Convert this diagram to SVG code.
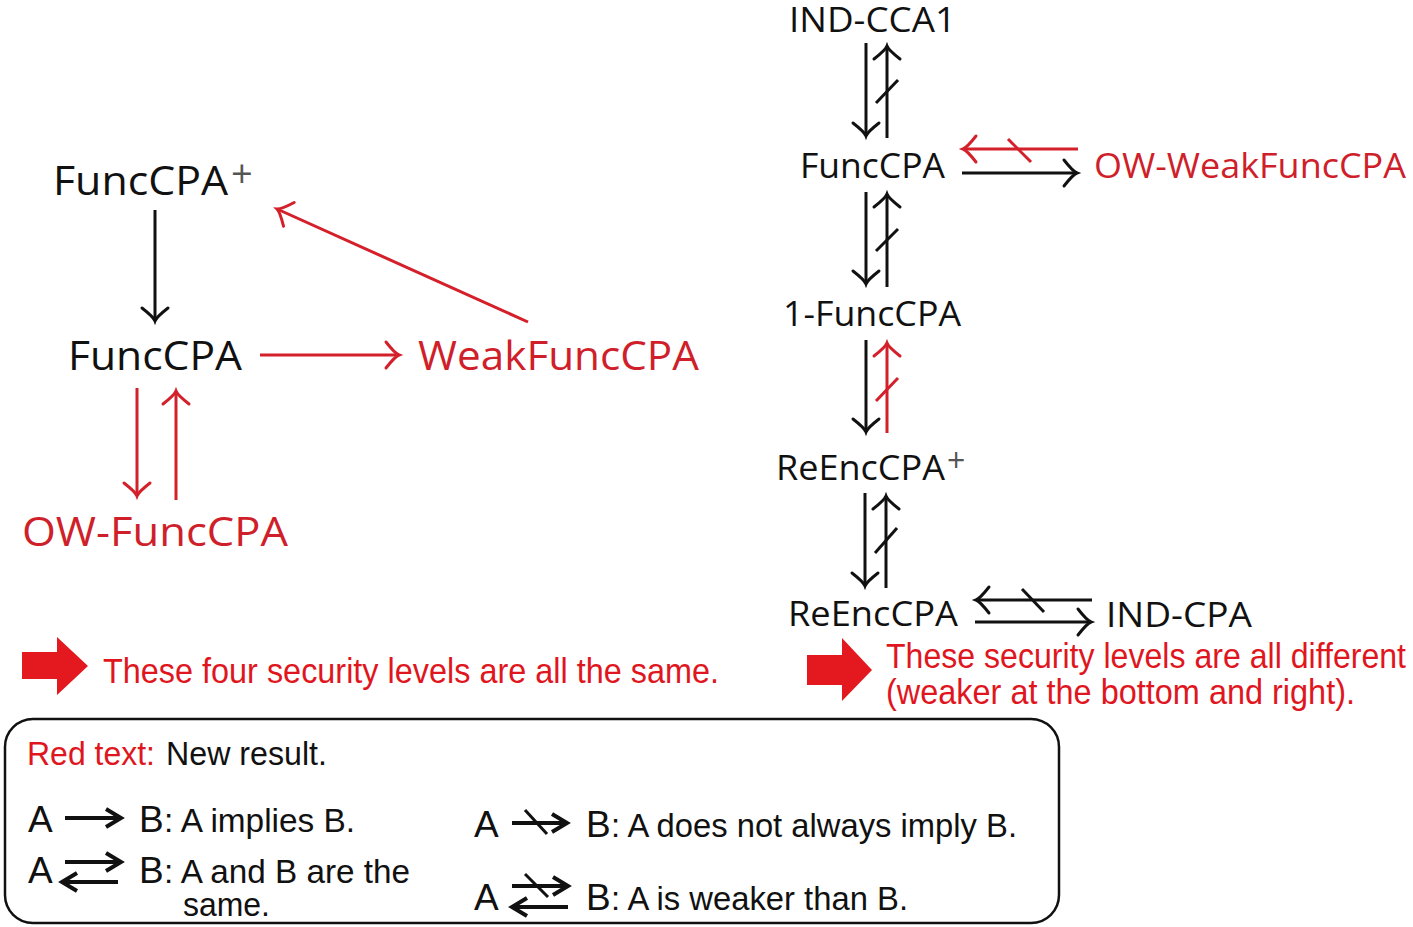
<svg xmlns="http://www.w3.org/2000/svg" width="1413" height="927" viewBox="0 0 1413 927">
<style>
.lbl{font-family:"Open Sans","DejaVu Sans",sans-serif;font-size:40px;fill:#111}
.lbs{font-family:"Open Sans","DejaVu Sans",sans-serif;font-size:35px;fill:#111}
.red{fill:#cf1f2b}
.sup{font-family:"Open Sans","DejaVu Sans",sans-serif;fill:#555}
.note{font-family:"Liberation Sans",Arial,sans-serif;font-size:35px;fill:#e0161e}
.leg{font-family:"Liberation Sans",Arial,sans-serif;font-size:34px;fill:#111}
.sym{font-family:"Liberation Sans",Arial,sans-serif;font-size:37px;fill:#111}
.ak{stroke:#111;stroke-width:3;fill:none}
.ar{stroke:#d3202a;stroke-width:3;fill:none}
.lg{stroke:#111;stroke-width:4;fill:none}
</style>
<defs>
<marker id="hk" markerUnits="userSpaceOnUse" orient="auto" overflow="visible" refX="0" refY="0" markerWidth="1" markerHeight="1">
<path d="M-13,-13 Q-4,-1.5 0,0 Q-4,1.5 -13,13" stroke="#111" stroke-width="3" fill="none" stroke-linecap="round"/>
</marker>
<marker id="hr" markerUnits="userSpaceOnUse" orient="auto" overflow="visible" refX="0" refY="0" markerWidth="1" markerHeight="1">
<path d="M-13,-13 Q-4,-1.5 0,0 Q-4,1.5 -13,13" stroke="#d3202a" stroke-width="3" fill="none" stroke-linecap="round"/>
</marker>
<marker id="hl" markerUnits="userSpaceOnUse" orient="auto" overflow="visible" refX="0" refY="0" markerWidth="1" markerHeight="1">
<path d="M-15,-9 L0,0 L-15,9" stroke="#111" stroke-width="4" fill="none" stroke-linejoin="miter"/>
</marker>
</defs>
<rect width="1413" height="927" fill="#fff"/>

<!-- Left diagram nodes -->
<g id="n-funccpa-plus">
<text class="lbl" x="53" y="195" textLength="175" lengthAdjust="spacingAndGlyphs">FuncCPA</text>
<text class="sup" x="231" y="187" font-size="38">+</text>
</g>
<g id="n-funccpa-left">
<text class="lbl" x="68" y="370" textLength="174" lengthAdjust="spacingAndGlyphs">FuncCPA</text>
</g>
<g id="n-weakfunccpa">
<text class="lbl red" x="418" y="370" textLength="281" lengthAdjust="spacingAndGlyphs">WeakFuncCPA</text>
</g>
<g id="n-ow-funccpa">
<text class="lbl red" x="22" y="546" textLength="266" lengthAdjust="spacingAndGlyphs">OW-FuncCPA</text>
</g>

<!-- Right diagram nodes -->
<g id="n-ind-cca1">
<text class="lbs" x="789" y="32" textLength="167" lengthAdjust="spacingAndGlyphs">IND-CCA1</text>
</g>
<g id="n-funccpa-right">
<text class="lbs" x="800" y="178" textLength="145" lengthAdjust="spacingAndGlyphs">FuncCPA</text>
</g>
<g id="n-ow-weakfunccpa">
<text class="lbs red" x="1094" y="178" textLength="312" lengthAdjust="spacingAndGlyphs">OW-WeakFuncCPA</text>
</g>
<g id="n-1-funccpa">
<text class="lbs" x="783" y="326" textLength="178" lengthAdjust="spacingAndGlyphs">1-FuncCPA</text>
</g>
<g id="n-reenccpa-plus">
<text class="lbs" x="776" y="480" textLength="169" lengthAdjust="spacingAndGlyphs">ReEncCPA</text>
<text class="sup" x="947" y="472" font-size="32">+</text>
</g>
<g id="n-reenccpa">
<text class="lbs" x="788" y="626" textLength="170" lengthAdjust="spacingAndGlyphs">ReEncCPA</text>
</g>
<g id="n-ind-cpa">
<text class="lbs" x="1106" y="627" textLength="146" lengthAdjust="spacingAndGlyphs">IND-CPA</text>
</g>

<!-- Connectors -->
<g id="connectors">
<!-- left -->
<line class="ak" x1="155" y1="210" x2="155" y2="321" marker-end="url(#hk)"/>
<line class="ar" x1="260" y1="355" x2="399" y2="355" marker-end="url(#hr)"/>
<line class="ar" x1="528" y1="322" x2="277" y2="209" marker-end="url(#hr)"/>
<line class="ar" x1="137" y1="388" x2="137" y2="496" marker-end="url(#hr)"/>
<line class="ar" x1="176" y1="500" x2="176" y2="391" marker-end="url(#hr)"/>
<!-- right: IND-CCA1 / FuncCPA -->
<line class="ak" x1="866" y1="43" x2="866" y2="136" marker-end="url(#hk)"/>
<line class="ak" x1="887" y1="138" x2="887" y2="46" marker-end="url(#hk)"/>
<line class="ak" x1="876" y1="103" x2="898" y2="80"/>
<!-- FuncCPA / OW-WeakFuncCPA -->
<line class="ar" x1="1078" y1="149" x2="963" y2="149" marker-end="url(#hr)"/>
<line class="ar" x1="1008" y1="139" x2="1031" y2="162"/>
<line class="ak" x1="962" y1="173" x2="1077" y2="173" marker-end="url(#hk)"/>
<!-- FuncCPA / 1-FuncCPA -->
<line class="ak" x1="866" y1="192" x2="866" y2="284" marker-end="url(#hk)"/>
<line class="ak" x1="887" y1="287" x2="887" y2="194" marker-end="url(#hk)"/>
<line class="ak" x1="876" y1="251" x2="898" y2="229"/>
<!-- 1-FuncCPA / ReEncCPA+ -->
<line class="ak" x1="866" y1="340" x2="866" y2="432" marker-end="url(#hk)"/>
<line class="ar" x1="887" y1="433" x2="887" y2="343" marker-end="url(#hr)"/>
<line class="ar" x1="876" y1="401" x2="898" y2="378"/>
<!-- ReEncCPA+ / ReEncCPA -->
<line class="ak" x1="865" y1="493" x2="865" y2="586" marker-end="url(#hk)"/>
<line class="ak" x1="886" y1="588" x2="886" y2="496" marker-end="url(#hk)"/>
<line class="ak" x1="875" y1="553" x2="897" y2="528"/>
<!-- ReEncCPA / IND-CPA -->
<line class="ak" x1="1092" y1="600" x2="976" y2="600" marker-end="url(#hk)"/>
<line class="ak" x1="1022" y1="589" x2="1044" y2="612"/>
<line class="ak" x1="975" y1="622" x2="1091" y2="622" marker-end="url(#hk)"/>
</g>

<!-- Notes with fat arrows -->
<g id="note-left">
<polygon points="22,652 57,652 57,637 88,666 57,695 57,679 22,679" fill="#e3191f"/>
<text class="note" x="103" y="683" textLength="616" lengthAdjust="spacingAndGlyphs">These four security levels are all the same.</text>
</g>
<g id="note-right">
<polygon points="807,655 842,655 842,638 872,670 842,701 842,685 807,685" fill="#e3191f"/>
<text class="note" x="886" y="668" textLength="520" lengthAdjust="spacingAndGlyphs">These security levels are all different</text>
<text class="note" x="886" y="704" textLength="469" lengthAdjust="spacingAndGlyphs">(weaker at the bottom and right).</text>
</g>

<!-- Legend -->
<g id="legend">
<rect x="5" y="719" width="1054" height="204" rx="28" ry="28" fill="none" stroke="#111" stroke-width="2.5"/>
<text class="leg" x="27" y="765" textLength="128" lengthAdjust="spacingAndGlyphs" style="fill:#e0161e">Red text:</text>
<text class="leg" x="166" y="765" textLength="161" lengthAdjust="spacingAndGlyphs">New result.</text>

<text class="sym" x="28" y="832">A</text>
<line class="lg" x1="65" y1="818" x2="121" y2="818" marker-end="url(#hl)"/>
<text class="sym" x="139" y="832">B</text>
<text class="leg" x="164" y="832" textLength="191" lengthAdjust="spacingAndGlyphs">: A implies B.</text>

<text class="sym" x="28" y="883">A</text>
<line class="lg" x1="65" y1="862" x2="121" y2="862" marker-end="url(#hl)"/>
<line class="lg" x1="118" y1="882" x2="62" y2="882" marker-end="url(#hl)"/>
<text class="sym" x="139" y="883">B</text>
<text class="leg" x="164" y="883" textLength="246" lengthAdjust="spacingAndGlyphs">: A and B are the</text>
<text class="leg" x="183" y="916" textLength="87" lengthAdjust="spacingAndGlyphs">same.</text>

<text class="sym" x="474" y="837">A</text>
<line class="lg" x1="512" y1="823" x2="567" y2="823" marker-end="url(#hl)"/>
<line x1="525" y1="810" x2="547" y2="834" stroke="#111" stroke-width="3"/>
<text class="sym" x="586" y="837">B</text>
<text class="leg" x="611" y="837" textLength="406" lengthAdjust="spacingAndGlyphs">: A does not always imply B.</text>

<text class="sym" x="474" y="910">A</text>
<line class="lg" x1="512" y1="886" x2="568" y2="886" marker-end="url(#hl)"/>
<line x1="525" y1="874" x2="548" y2="897" stroke="#111" stroke-width="3"/>
<line class="lg" x1="568" y1="907" x2="512" y2="907" marker-end="url(#hl)"/>
<text class="sym" x="586" y="910">B</text>
<text class="leg" x="611" y="910" textLength="297" lengthAdjust="spacingAndGlyphs">: A is weaker than B.</text>
</g>
</svg>
